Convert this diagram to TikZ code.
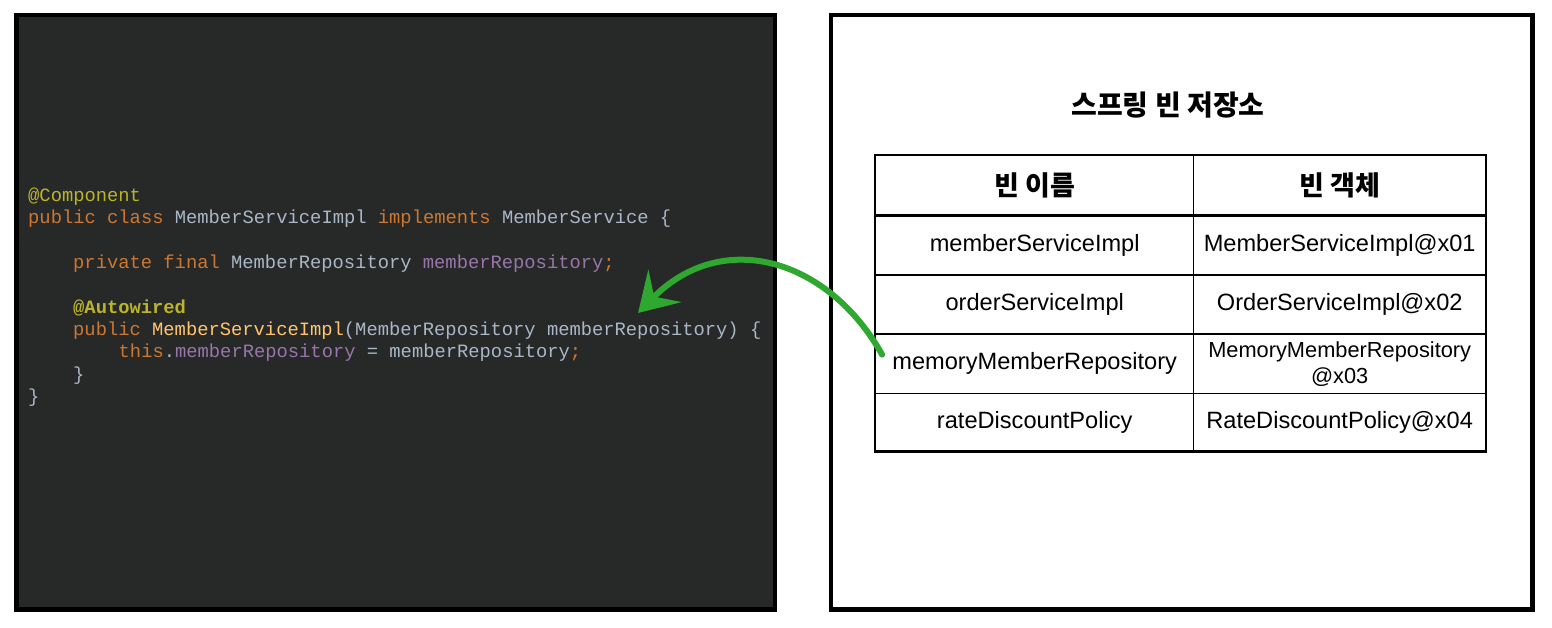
\documentclass[tikz,border=0pt]{standalone}
\usepackage{fontspec}
\usetikzlibrary{arrows.meta}
\setmainfont{Liberation Sans}
\setmonofont{Liberation Mono}
\newfontfamily\krfont{Noto Sans CJK KR}
\definecolor{bgdark}{HTML}{272828}
\definecolor{ctext}{HTML}{A9B7C6}
\definecolor{ckwc}{HTML}{CC7832}
\definecolor{cannc}{HTML}{BBB529}
\definecolor{cfldc}{HTML}{9876AA}
\definecolor{cmthc}{HTML}{FFC66D}
\definecolor{crayon}{HTML}{2EA82E}
\newcommand\ckw[1]{\textcolor{ckwc}{#1}}
\newcommand\cann[1]{\textcolor{cannc}{#1}}
\newcommand\cfld[1]{\textcolor{cfldc}{#1}}
\newcommand\cmth[1]{\textcolor{cmthc}{#1}}
\tikzset{
  codeline/.style={anchor=base west, inner sep=0pt, text=ctext, font=\ttfamily\fontsize{18.8}{22}\selectfont},
  cell/.style={draw=black, line width=1.2pt, inner sep=0pt, align=center, font=\fontsize{23.6}{27}\selectfont},
  smallcell/.style={cell, font=\fontsize{21.8}{26}\selectfont},
  headcell/.style={cell, font=\krfont\bfseries\fontsize{27}{30}\selectfont},
  panel/.style={draw=black, line width=4.5pt},
  wire/.style={draw=crayon, line width=6pt, line cap=round, -{Stealth[length=38pt,width=46pt,inset=15pt]}}
}
\begin{document}
\begin{tikzpicture}[x=1pt,y=-1pt]
\useasboundingbox (0,0) rectangle (1552,628);
\fill[white] (0,0) rectangle (1552,628);
% left code panel
\draw[panel, fill=bgdark] (16.5,15) rectangle (775,609.5);
\node[codeline] (l1) at (28,201.7) {\cann{@Component}};
\node[codeline] (l2) at (28,224.0) {\ckw{public class} MemberServiceImpl \ckw{implements} MemberService \{};
\node[codeline] (l4) at (73,268.6) {\ckw{private final} MemberRepository \cfld{memberRepository}\ckw{;}};
\node[codeline] (l6) at (73,313.2) {\cann{\bfseries @Autowired}};
\node[codeline] (l7) at (73,335.5) {\ckw{public} \cmth{MemberServiceImpl}(MemberRepository memberRepository) \{};
\node[codeline] (l8) at (118.5,357.8) {\ckw{this}.\cfld{memberRepository} = memberRepository\ckw{;}};
\node[codeline] (l9) at (73,380.1) {\}};
\node[codeline] (l10) at (28,402.4) {\}};
% right panel
\draw[panel] (831,15) rectangle (1532.5,609.5);
\node[font=\krfont\bfseries\fontsize{28}{32}\selectfont] (title) at (1168,105) {스프링 빈 저장소};
% table cells
\node[headcell, minimum width=318pt, minimum height=59.7pt] (h1) at (1034.7,185.15) {빈 이름};
\node[headcell, minimum width=292pt, minimum height=59.7pt] (h2) at (1339.7,185.15) {빈 객체};
\node[cell, minimum width=318pt, minimum height=60pt] (a1) at (1034.7,245) {memberServiceImpl};
\node[cell, minimum width=292pt, minimum height=60pt] (b1) at (1339.7,245) {MemberServiceImpl@x01};
\node[cell, minimum width=318pt, minimum height=59pt] (a2) at (1034.7,304.5) {orderServiceImpl};
\node[cell, minimum width=292pt, minimum height=59pt] (b2) at (1339.7,304.5) {OrderServiceImpl@x02};
\node[cell, minimum width=318pt, minimum height=59.3pt] (a3) at (1034.7,363.65) {memoryMemberRepository};
\node[smallcell, minimum width=292pt, minimum height=59.3pt] (b3) at (1339.7,363.65) {MemoryMemberRepository\\@x03};
\node[cell, minimum width=318pt, minimum height=57.7pt] (a4) at (1034.7,422.15) {rateDiscountPolicy};
\node[cell, minimum width=292pt, minimum height=57.7pt] (b4) at (1339.7,422.15) {RateDiscountPolicy@x04};
% emphasised table lines
\draw[line width=2.2pt] (h1.north west) rectangle (b4.south east);
\draw[line width=2.6pt] (h1.south west) -- (h2.south east);
% crayon arrow
\coordinate (arrS) at ([shift={(7,-9)}]a3.west);
\coordinate (arrE) at (638,313);
\draw[wire] (arrS) .. controls (828,258) and (722,228) .. (arrE);
\end{tikzpicture}
\end{document}
